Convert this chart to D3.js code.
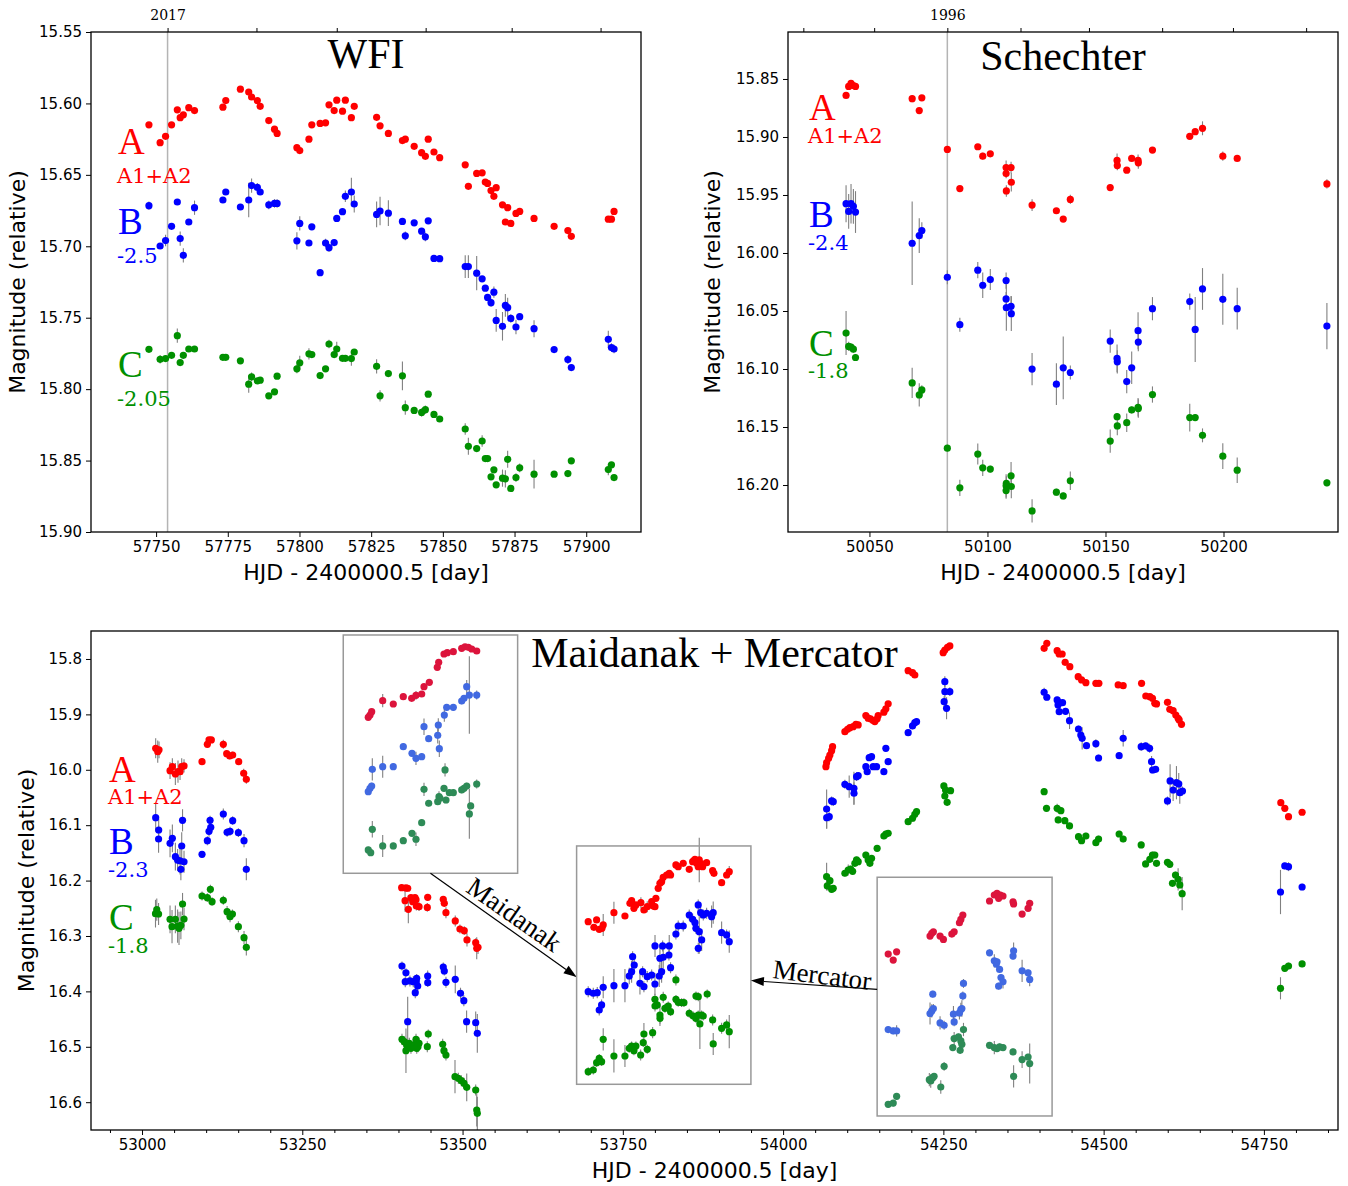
<!DOCTYPE html>
<html><head><meta charset="utf-8">
<script src="https://cdn.jsdelivr.net/npm/d3@7"></script>
<style>body{margin:0;background:#fff}svg{display:block}</style>
</head><body>
<script>
// ---------------- DATA ----------------
// WFI (top-left): shared epochs, magnitudes of A, B, C and their errors
const wfiT = [57747.5,57751.4,57753.3,57755.4,57757.4,57758.4,57759.5,57761.4,57763.4,57773.3,57774.3,57779.4,57782.3,57783.3,57785.3,57786.3,57789.3,57791.3,57792.2,57799.1,57800.1,57803.3,57804.3,57807.2,57809.1,57810.3,57812.1,57813.0,57815.0,57816.0,57818.1,57819.1,57826.9,57828.1,57831.0,57835.9,57836.9,57840.0,57842.6,57843.9,57844.9,57846.9,57848.9,57857.8,57858.9,57861.8,57863.7,57864.8,57865.6,57866.8,57867.8,57868.6,57870.8,57871.8,57872.6,57873.7,57875.5,57876.8,57881.8,57888.8,57893.6,57894.8,57907.7,57908.8,57909.7];
const wfiA = [15.615,15.6275,15.623,15.615,15.6045,15.610,15.608,15.603,15.605,15.6026,15.598,15.590,15.592,15.5955,15.598,15.602,15.612,15.618,15.621,15.631,15.633,15.625,15.615,15.614,15.6136,15.601,15.605,15.5977,15.6054,15.5977,15.610,15.602,15.6097,15.6157,15.621,15.626,15.625,15.630,15.6345,15.637,15.625,15.634,15.638,15.643,15.658,15.649,15.6486,15.655,15.656,15.661,15.665,15.659,15.671,15.683,15.673,15.684,15.677,15.6756,15.6805,15.686,15.689,15.693,15.681,15.681,15.6756];
const wfiB = [15.6716,15.6998,15.696,15.686,15.669,15.6946,15.7063,15.683,15.673,15.6676,15.662,15.6725,15.6676,15.6575,15.6587,15.662,15.671,15.670,15.670,15.6962,15.684,15.6977,15.6864,15.7185,15.6977,15.701,15.6974,15.6805,15.6758,15.665,15.662,15.6704,15.6777,15.6753,15.6768,15.6826,15.6927,15.6836,15.6894,15.6934,15.6822,15.7085,15.7087,15.7142,15.7142,15.7188,15.7228,15.7293,15.7358,15.7395,15.7321,15.7519,15.756,15.7414,15.743,15.7505,15.7565,15.7493,15.7577,15.7723,15.7793,15.7849,15.7651,15.7709,15.7719];
const wfiC = [15.7721,15.7791,15.7786,15.7763,15.7626,15.7814,15.7763,15.7719,15.7719,15.7777,15.7777,15.7802,15.7965,15.7914,15.7942,15.7937,15.8047,15.8019,15.7909,15.7858,15.7816,15.7753,15.7758,15.7905,15.7858,15.7684,15.7758,15.7719,15.7784,15.7784,15.7786,15.774,15.784,15.8047,15.7891,15.7907,15.813,15.8149,15.8163,15.8144,15.8035,15.8177,15.8209,15.8279,15.84,15.8416,15.8363,15.8486,15.8486,15.8614,15.8565,15.867,15.8623,15.8628,15.8491,15.8695,15.8619,15.8551,15.8595,15.8595,15.8591,15.8502,15.8563,15.853,15.8619];
const wfiEA = [0.0015,0.0015,0.0015,0.0015,0.0015,0.0015,0.0015,0.0015,0.0015,0.0015,0.0015,0.0015,0.0015,0.0015,0.0015,0.0015,0.0015,0.0015,0.0015,0.002,0.002,0.0015,0.0015,0.0015,0.0015,0.0015,0.0015,0.0015,0.0015,0.0015,0.0015,0.0015,0.002,0.0015,0.0015,0.0015,0.0015,0.0015,0.0015,0.0015,0.0015,0.0015,0.0015,0.0015,0.002,0.0015,0.0015,0.0015,0.0015,0.0015,0.0015,0.0015,0.0015,0.0015,0.0015,0.0015,0.0015,0.0015,0.0015,0.0015,0.0015,0.0015,0.0015,0.0015,0.0015];
const wfiEB = [0.003,0.002,0.004,0.002,0.002,0.005,0.005,0.002,0.005,0.002,0.002,0.002,0.012,0.005,0.003,0.002,0.003,0.003,0.003,0.006,0.005,0.002,0.002,0.002,0.003,0.003,0.002,0.002,0.002,0.004,0.010,0.006,0.009,0.010,0.009,0.002,0.003,0.002,0.002,0.003,0.002,0.002,0.002,0.008,0.008,0.012,0.002,0.002,0.002,0.003,0.004,0.008,0.010,0.008,0.007,0.003,0.005,0.002,0.006,0.002,0.003,0.002,0.006,0.003,0.003];
const wfiEC = [0.002,0.003,0.002,0.002,0.005,0.002,0.002,0.002,0.002,0.002,0.002,0.002,0.006,0.003,0.002,0.002,0.002,0.002,0.002,0.003,0.005,0.004,0.002,0.002,0.002,0.003,0.002,0.005,0.002,0.002,0.005,0.002,0.005,0.004,0.002,0.010,0.005,0.002,0.003,0.003,0.002,0.002,0.002,0.004,0.006,0.002,0.004,0.002,0.002,0.002,0.002,0.002,0.006,0.006,0.006,0.002,0.003,0.003,0.010,0.002,0.002,0.002,0.004,0.002,0.002];

// Schechter (top-right)
const schT = [50040.1,50041.2,50042.2,50043.2,50044.1,50068.1,50071.1,50072.2,50083.0,50088.3,50095.9,50098.0,50101.2,50107.9,50107.9,50108.0,50110.0,50110.1,50118.9,50129.2,50132.1,50135.1,50152.0,50154.9,50155.0,50159.0,50161.1,50163.8,50163.9,50169.9,50185.7,50188.0,50191.1,50199.7,50205.8,50243.8];
const schA = [15.8642,15.8564,15.8538,15.8556,15.8564,15.867,15.8772,15.8662,15.9107,15.9445,15.9084,15.9165,15.9145,15.9263,15.9315,15.9465,15.9263,15.939,15.9587,15.9636,15.9708,15.9538,15.9436,15.9202,15.9246,15.9286,15.9185,15.9202,15.9223,15.9113,15.8994,15.8954,15.8925,15.9165,15.9185,15.9405];
const schB = [15.9575,15.9642,15.9575,15.9598,15.9647,15.9916,15.985,15.9806,16.0209,16.0618,16.0148,16.0278,16.0229,16.0238,16.0396,16.0471,16.046,16.0523,16.1001,16.1131,16.099,16.103,16.0759,16.0909,16.0938,16.1108,16.099,16.067,16.0768,16.048,16.0419,16.0659,16.031,16.0399,16.048,16.063];
const schC = [16.069,16.0805,16.0811,16.0829,16.0901,16.112,16.1223,16.118,16.1682,16.2024,16.1733,16.1852,16.1863,16.2007,16.2048,16.1985,16.1921,16.2013,16.2223,16.2062,16.2094,16.1964,16.1621,16.1411,16.1491,16.1463,16.1353,16.133,16.1341,16.122,16.1419,16.1419,16.1572,16.1751,16.1872,16.1981];
const schEA = [0.002,0.002,0.002,0.002,0.002,0.003,0.002,0.002,0.002,0.002,0.002,0.003,0.002,0.006,0.004,0.005,0.005,0.008,0.005,0.002,0.002,0.004,0.003,0.006,0.004,0.002,0.002,0.005,0.005,0.002,0.002,0.002,0.006,0.004,0.002,0.004];
const schEB = [0.016,0.015,0.017,0.015,0.018,0.036,0.015,0.007,0.006,0.006,0.007,0.011,0.009,0.007,0.006,0.020,0.009,0.015,0.014,0.018,0.027,0.006,0.010,0.012,0.010,0.010,0.014,0.016,0.008,0.010,0.007,0.028,0.018,0.022,0.018,0.020];
const schEC = [0.019,0.004,0.003,0.003,0.003,0.013,0.010,0.004,0.003,0.007,0.009,0.007,0.003,0.010,0.007,0.006,0.012,0.010,0.010,0.003,0.003,0.008,0.010,0.003,0.008,0.008,0.003,0.008,0.008,0.007,0.012,0.003,0.006,0.011,0.011,0.003];

// Maidanak + Mercator (bottom): [HJD, mag, err]
const mmA = [
[53021.3,15.9612,0.018],[53024.5,15.9673,0.02],[53026.5,15.964,0.015],[53043.7,16.0016,0.015],[53047.3,15.9944,0.015],[53052.0,16.0076,0.02],[53056.1,16.0034,0.02],[53059.3,16.0034,0.015],[53061.9,15.9944,0.015],[53065.5,15.9931,0.012],
[53093.6,15.9853,0.006],[53101.9,15.954,0.004],[53104.5,15.9462,0.004],[53108.1,15.9462,0.004],[53126.8,15.954,0.008],[53132.1,15.9709,0.006],[53136.8,15.9751,0.006],[53141.4,15.9733,0.006],[53150.8,15.9853,0.005],[53158.6,16.0063,0.008],[53162.7,16.0172,0.008],
[53405.0,16.2128,0.006],[53410.3,16.2363,0.02],[53411.7,16.2133,0.005],[53414.4,16.2138,0.005],[53415.4,16.2518,0.025],[53419.5,16.2309,0.006],[53422.2,16.2381,0.006],[53425.8,16.2309,0.006],[53427.4,16.2345,0.006],[53427.9,16.2459,0.008],[53432.1,16.2471,0.008],
[53445.0,16.2484,0.008],[53445.6,16.2303,0.006],[53469.9,16.2338,0.006],[53471.5,16.241,0.006],[53474.1,16.258,0.01],[53488.6,16.2729,0.01],[53495.9,16.2874,0.008],[53502.6,16.2904,0.008],[53506.9,16.3072,0.012],[53520.5,16.312,0.008],[53522.1,16.3222,0.02],[53524.1,16.3204,0.012],
[53696.0,16.2742,0.004],[53704.9,16.2843,0.004],[53709.1,16.2711,0.004],[53713.2,16.2879,0.004],[53717.4,16.2861,0.004],[53719.4,16.2801,0.02],[53736.1,16.258,0.02],[53753.3,16.2639,0.004],[53761.1,16.241,0.004],[53763.7,16.2363,0.004],[53767.3,16.25,0.004],[53770.4,16.244,0.004],[53778.2,16.2399,0.01],[53782.9,16.2531,0.004],[53788.1,16.2471,0.01],[53795.0,16.2381,0.004],[53797.4,16.2459,0.004],[53800.1,16.2471,0.004],[53801.6,16.232,0.004],
[53805.2,16.2139,0.004],[53807.9,16.2049,0.004],[53810.5,16.202,0.004],[53813.0,16.1941,0.004],[53818.3,16.1899,0.004],[53822.4,16.1868,0.004],[53824.5,16.1899,0.004],[53832.8,16.1718,0.006],[53836.4,16.1749,0.004],[53844.2,16.1688,0.004],
[53853.6,16.1796,0.004],[53858.9,16.1658,0.004],[53860.9,16.164,0.004],[53862.5,16.1616,0.004],[53865.2,16.1688,0.004],[53867.6,16.1749,0.004],[53869.2,16.1628,0.04],[53873.0,16.17,0.004],[53874.5,16.1749,0.004],[53880.7,16.1676,0.004],[53890.1,16.1821,0.004],[53892.1,16.1869,0.004],[53904.1,16.2038,0.004],[53911.9,16.1899,0.004],[53916.0,16.1839,0.01],
[54066.8,15.9944,0.003],[54067.9,15.9872,0.003],[54071.0,15.9792,0.003],[54073.0,15.9733,0.003],[54075.7,15.9655,0.003],[54077.2,15.9583,0.003],[54096.4,15.9312,0.003],[54100.6,15.9269,0.003],[54104.2,15.924,0.003],[54109.3,15.9222,0.003],[54113.6,15.9179,0.003],[54117.1,15.9191,0.003],
[54129.1,15.9021,0.003],[54132.7,15.9069,0.003],[54136.4,15.908,0.003],[54140.5,15.9111,0.003],[54143.1,15.9129,0.003],[54146.7,15.908,0.003],[54148.3,15.9021,0.003],[54157.2,15.8961,0.003],[54160.3,15.8899,0.003],[54163.9,15.8809,0.003],
[54195.1,15.8211,0.003],[54201.9,15.8247,0.003],[54205.5,15.8289,0.003],[54249.7,15.7886,0.003],[54252.3,15.7838,0.003],[54256.5,15.7789,0.003],[54260.1,15.7765,0.003],
[54407.2,15.7807,0.003],[54411.4,15.7717,0.003],[54427.5,15.785,0.003],[54430.6,15.791,0.003],[54435.3,15.791,0.003],[54440.0,15.806,0.003],[54447.3,15.8139,0.003],[54460.3,15.8319,0.003],[54465.6,15.8379,0.003],[54472.3,15.8428,0.003],[54487.9,15.8439,0.003],[54492.6,15.8439,0.003],
[54522.7,15.8469,0.003],[54530.5,15.8482,0.003],[54559.2,15.8439,0.003],[54565.8,15.8668,0.003],[54572.1,15.868,0.003],[54576.2,15.8709,0.003],[54579.8,15.88,0.003],[54582.5,15.8812,0.003],[54599.6,15.8782,0.003],[54603.2,15.8908,0.003],[54608.4,15.8933,0.003],[54612.6,15.9011,0.003],[54616.2,15.907,0.003],[54617.8,15.9101,0.003],[54621.5,15.9179,0.003],
[54776.4,16.0594,0.003],[54782.6,16.0695,0.003],[54788.4,16.0847,0.003],[54809.6,16.0767,0.003]];
const mmB = [
[53021.3,16.0865,0.025],[53025.8,16.1249,0.025],[53026.0,16.1087,0.02],[53043.7,16.1327,0.025],[53047.3,16.1237,0.025],[53052.0,16.1569,0.025],[53055.5,16.1629,0.02],[53059.3,16.1642,0.025],[53060.6,16.1796,0.02],[53061.9,16.1376,0.025],[53063.2,16.0912,0.02],[53065.5,16.166,0.02],
[53093.6,16.1526,0.006],[53101.9,16.128,0.008],[53104.5,16.111,0.01],[53106.1,16.0912,0.008],[53107.2,16.1038,0.008],[53126.8,16.0798,0.01],[53132.7,16.1129,0.008],[53137.3,16.111,0.008],[53141.4,16.0918,0.008],[53150.3,16.1135,0.008],[53159.1,16.128,0.012],[53162.7,16.1796,0.02],
[53405.5,16.3542,0.008],[53410.6,16.3825,0.01],[53411.7,16.3664,0.008],[53414.4,16.4547,0.045],[53417.9,16.3812,0.01],[53423.1,16.3825,0.01],[53426.2,16.4023,0.01],[53427.8,16.3825,0.01],[53428.4,16.3764,0.008],[53430.0,16.3903,0.01],[53445.6,16.3722,0.01],[53445.7,16.3843,0.008],
[53469.9,16.356,0.008],[53471.5,16.3632,0.008],[53474.1,16.3836,0.01],[53488.6,16.3782,0.025],[53496.8,16.4034,0.01],[53502.0,16.4168,0.01],[53506.3,16.4547,0.02],[53520.5,16.4565,0.02],[53523.0,16.4757,0.035],
[53696.0,16.4006,0.01],[53703.9,16.4034,0.01],[53710.1,16.4023,0.01],[53713.2,16.4336,0.01],[53716.9,16.4245,0.01],[53719.4,16.3926,0.02],[53736.1,16.3897,0.03],[53753.3,16.3897,0.03],[53760.0,16.3722,0.015],[53763.7,16.3645,0.02],[53765.3,16.3374,0.01],[53767.8,16.3524,0.01],[53776.7,16.3854,0.02],[53780.9,16.3645,0.01],[53782.9,16.3915,0.01],[53788.1,16.3734,0.01],[53795.0,16.3704,0.01],[53800.1,16.3867,0.02],[53800.2,16.318,0.02],[53806.8,16.3722,0.02],[53807.9,16.3402,0.02],[53810.5,16.3645,0.02],[53812.1,16.318,0.01],[53813.0,16.3384,0.02],[53821.9,16.3343,0.01],[53822.4,16.318,0.02],[53824.5,16.3572,0.01],
[53832.8,16.2964,0.01],[53836.4,16.282,0.01],[53844.2,16.282,0.01],[53853.6,16.2621,0.01],[53858.9,16.2699,0.01],[53862.5,16.276,0.01],[53864.0,16.2861,0.01],[53867.6,16.244,0.01],[53867.7,16.3222,0.01],[53869.2,16.2922,0.04],[53871.4,16.2579,0.01],[53873.0,16.3072,0.02],[53875.5,16.2621,0.01],[53880.7,16.259,0.01],[53888.5,16.2652,0.02],[53891.0,16.2579,0.02],[53904.1,16.294,0.02],[53911.9,16.2981,0.01],[53916.0,16.3102,0.02],
[54067.9,16.0708,0.035],[54068.0,16.0865,0.02],[54072.0,16.0847,0.008],[54075.7,16.0563,0.008],[54078.2,16.0576,0.008],[54096.4,16.0262,0.008],[54103.1,16.0305,0.02],[54110.5,16.0334,0.03],[54110.6,16.0424,0.02],[54114.6,16.0124,0.008],[54117.1,16.0106,0.006],
[54129.1,15.9944,0.006],[54131.2,16.0034,0.006],[54134.3,15.9781,0.006],[54138.0,15.9763,0.006],[54140.5,15.9944,0.006],[54145.8,15.9944,0.006],[54157.2,16.0034,0.006],[54160.3,15.9612,0.006],[54163.9,15.9853,0.006],
[54195.1,15.933,0.006],[54201.9,15.9209,0.006],[54205.5,15.915,0.006],[54208.2,15.9132,0.006],[54251.2,15.8771,0.01],[54252.3,15.841,0.01],[54252.4,15.859,0.025],[54255.0,15.889,0.02],[54260.1,15.859,0.008],
[54407.2,15.8601,0.008],[54411.4,15.8691,0.006],[54427.5,15.874,0.006],[54428.9,15.883,0.006],[54430.6,15.8788,0.006],[54430.7,15.8951,0.006],[54435.9,15.8788,0.006],[54440.6,15.8944,0.006],[54446.8,15.9114,0.015],[54460.8,15.9264,0.006],[54464.4,15.9372,0.006],[54466.5,15.9432,0.02],
[54473.3,15.9565,0.006],[54487.9,15.9529,0.008],[54492.1,15.9787,0.006],[54524.2,15.9745,0.006],[54530.5,15.9432,0.015],[54558.6,15.9583,0.008],[54565.5,15.957,0.006],[54571.7,15.9612,0.008],[54574.8,15.9853,0.01],[54576.4,16.0004,0.006],[54581.1,15.9991,0.006],
[54599.6,16.0563,0.008],[54603.7,16.0202,0.03],[54608.4,16.0365,0.02],[54613.6,16.0233,0.03],[54617.2,16.0256,0.02],[54618.8,16.0413,0.02],[54623.0,16.0383,0.008],
[54775.9,16.2206,0.04],[54782.6,16.1736,0.006],[54788.4,16.1749,0.008],[54809.6,16.2116,0.006]];
const mmC = [
[53021.0,16.2597,0.025],[53023.0,16.2525,0.02],[53025.8,16.2603,0.02],[53043.7,16.2699,0.025],[53046.8,16.2832,0.03],[53052.0,16.2699,0.025],[53055.5,16.282,0.03],[53057.7,16.2862,0.03],[53060.6,16.2807,0.025],[53063.2,16.2423,0.02],[53065.5,16.2695,0.02],
[53093.6,16.2278,0.008],[53101.9,16.2308,0.008],[53106.6,16.2157,0.008],[53109.2,16.2381,0.008],[53126.8,16.2356,0.008],[53132.7,16.2561,0.01],[53137.3,16.2651,0.01],[53141.0,16.2603,0.008],[53150.3,16.2832,0.01],[53159.1,16.3031,0.012],[53162.7,16.3204,0.015],
[53405.5,16.4865,0.01],[53409.1,16.4908,0.01],[53411.7,16.5071,0.04],[53412.8,16.4968,0.01],[53416.9,16.4937,0.01],[53419.5,16.5027,0.01],[53423.1,16.4968,0.01],[53427.4,16.4865,0.01],[53428.5,16.5027,0.01],[53430.5,16.4998,0.01],[53432.1,16.4937,0.01],[53445.0,16.4998,0.01],[53446.5,16.4769,0.008],
[53469.0,16.4955,0.01],[53471.0,16.5071,0.01],[53474.1,16.5148,0.01],[53488.2,16.554,0.03],[53493.4,16.5569,0.01],[53498.1,16.5612,0.01],[53502.3,16.5659,0.01],[53506.5,16.5731,0.025],[53520.5,16.5781,0.01],[53522.1,16.6141,0.03],[53523.0,16.6201,0.03],
[53696.0,16.5449,0.008],[53703.9,16.5419,0.008],[53709.1,16.5287,0.008],[53713.2,16.5208,0.008],[53716.9,16.5269,0.008],[53719.4,16.4865,0.02],[53736.1,16.5166,0.03],[53753.3,16.5166,0.02],[53760.0,16.5027,0.008],[53763.7,16.4986,0.008],[53767.3,16.5071,0.008],[53770.4,16.4986,0.008],[53777.8,16.5148,0.01],[53781.9,16.4926,0.008],[53782.9,16.4769,0.02],[53788.1,16.5045,0.008],[53796.5,16.4745,0.01],
[53800.1,16.4143,0.01],[53800.2,16.4264,0.01],[53803.6,16.4245,0.008],[53807.9,16.4426,0.02],[53813.0,16.4107,0.01],[53808.0,16.4486,0.01],[53815.7,16.4305,0.008],[53820.8,16.4264,0.008],[53824.5,16.4366,0.008],[53832.8,16.3794,0.01],[53832.9,16.4143,0.008],[53836.4,16.4197,0.008],[53841.7,16.4204,0.008],[53845.3,16.4204,0.008],
[53853.6,16.4395,0.008],[53859.8,16.4444,0.008],[53864.0,16.4486,0.008],[53867.6,16.4426,0.008],[53872.9,16.4426,0.008],[53875.4,16.4444,0.008],[53864.1,16.4083,0.008],[53867.7,16.4096,0.008],[53881.6,16.4047,0.008],[53890.1,16.4516,0.01],[53870.2,16.4588,0.045],[53891.0,16.4949,0.02],[53904.1,16.4666,0.01],[53911.9,16.4606,0.01],[53916.0,16.4727,0.03],
[54067.9,16.1929,0.025],[54068.9,16.2097,0.008],[54073.1,16.2002,0.006],[54075.7,16.2157,0.006],[54078.2,16.2139,0.006],[54096.4,16.1868,0.006],[54101.6,16.1809,0.01],[54105.3,16.1791,0.006],[54108.5,16.1832,0.006],[54112.0,16.1688,0.006],[54114.6,16.1628,0.006],[54117.1,16.1658,0.006],
[54129.1,16.1538,0.006],[54132.7,16.1628,0.006],[54135.4,16.1688,0.006],[54138.0,16.1598,0.006],[54146.7,16.1417,0.006],[54157.2,16.1195,0.006],[54160.3,16.1159,0.006],[54163.9,16.1146,0.006],
[54195.1,16.0937,0.006],[54201.9,16.0875,0.006],[54205.5,16.0803,0.006],[54208.2,16.0757,0.006],[54250.8,16.0292,0.006],[54252.3,16.0473,0.006],[54253.4,16.0365,0.006],[54255.9,16.0587,0.006],[54261.2,16.0377,0.006],
[54407.2,16.0395,0.006],[54410.9,16.0695,0.006],[54427.5,16.0695,0.008],[54429.1,16.0906,0.006],[54433.3,16.0738,0.006],[54439.5,16.0919,0.006],[54446.8,16.1014,0.006],[54460.8,16.1208,0.006],[54465.6,16.128,0.006],[54472.3,16.1195,0.006],[54487.9,16.1316,0.006],[54492.1,16.1249,0.006],
[54524.2,16.1159,0.006],[54530.5,16.1249,0.006],[54558.6,16.1357,0.006],[54565.5,16.17,0.006],[54572.1,16.1616,0.006],[54576.2,16.1538,0.006],[54579.8,16.1538,0.006],[54582.5,16.1688,0.006],[54599.6,16.167,0.006],[54603.2,16.1706,0.006],[54607.4,16.2049,0.006],[54612.1,16.1899,0.006],[54616.2,16.1977,0.02],[54618.8,16.2079,0.006],[54622.5,16.2236,0.03],
[54775.9,16.3944,0.02],[54782.6,16.3583,0.006],[54788.4,16.3542,0.006],[54809.6,16.3505,0.006]];

// Inset "Maidanak" (same HJD / mag frame as the boxed season)
const maiA = [[53716.9,16.2861,0.004],[53719.6,16.282,0.004],[53722.2,16.276,0.004],[53739.4,16.2561,0.012],[53755.9,16.2621,0.004],[53771.5,16.2489,0.004],[53784.6,16.2518,0.004],[53791.3,16.2464,0.008],[53800.2,16.244,0.004],[53803.8,16.2309,0.004],[53812.1,16.2229,0.004],[53824.5,16.1958,0.004],[53826.7,16.1868,0.004],[53835.0,16.1718,0.004],[53840.1,16.1695,0.004],[53849.5,16.1677,0.004],[53862.6,16.1616,0.004],[53867.8,16.1587,0.004],[53872.9,16.1598,0.004],[53878.2,16.1628,0.004],[53886.0,16.1664,0.004]];
const maiB = [[53716.9,16.4204,0.006],[53719.6,16.4143,0.006],[53722.2,16.4101,0.006],[53723.2,16.38,0.02],[53739.4,16.3753,0.02],[53755.9,16.3753,0.006],[53771.5,16.3392,0.006],[53785.1,16.3511,0.006],[53791.3,16.3601,0.012],[53800.2,16.3572,0.006],[53803.8,16.3031,0.015],[53811.1,16.3247,0.006],[53825.2,16.3186,0.015],[53826.1,16.3,0.012],[53827.7,16.3428,0.015],[53835.5,16.282,0.012],[53839.2,16.2681,0.006],[53849.5,16.2681,0.006],[53862.6,16.2567,0.006],[53866.2,16.2518,0.006],[53870.4,16.2309,0.012],[53874.5,16.2459,0.07],[53886.0,16.2459,0.008]];
const maiC = [[53716.9,16.5256,0.006],[53720.7,16.5305,0.006],[53723.2,16.4883,0.015],[53739.4,16.5184,0.02],[53755.9,16.5184,0.006],[53771.5,16.5088,0.006],[53785.1,16.4955,0.006],[53791.3,16.5063,0.012],[53800.2,16.4764,0.006],[53803.8,16.4161,0.012],[53811.1,16.4413,0.006],[53825.2,16.4384,0.006],[53827.2,16.4294,0.01],[53828.8,16.4323,0.006],[53836.6,16.3812,0.012],[53835.0,16.4143,0.006],[53838.1,16.4354,0.006],[53843.3,16.4222,0.006],[53849.5,16.4222,0.006],[53862.6,16.4173,0.006],[53866.2,16.4143,0.006],[53870.4,16.4101,0.006],[53874.5,16.4606,0.045],[53876.6,16.4462,0.006],[53886.0,16.4065,0.008]];

// Inset "Mercator"
const merA = [[53695.1,16.276,0.004],[53702.9,16.2868,0.004],[53708.2,16.2718,0.004],[53760.1,16.2435,0.004],[53762.8,16.2386,0.004],[53765.3,16.2357,0.004],[53775.7,16.2435,0.004],[53780.9,16.2495,0.004],[53794.0,16.2399,0.004],[53797.6,16.2357,0.004],[53805.8,16.2195,0.004],[53808.0,16.2134,0.004],[53811.1,16.2056,0.004],[53852.6,16.1803,0.004],[53860.0,16.1695,0.004],[53864.2,16.1664,0.004],[53869.3,16.1695,0.004],[53873.5,16.1713,0.004],[53866.7,16.1755,0.004],[53889.1,16.1816,0.004],[53890.0,16.1857,0.004],[53903.2,16.2038,0.004],[53912.5,16.1935,0.004],[53915.0,16.1845,0.004]];
const merB = [[53695.1,16.4119,0.006],[53702.9,16.4144,0.006],[53708.2,16.4144,0.01],[53760.1,16.383,0.02],[53762.8,16.3783,0.012],[53765.3,16.374,0.008],[53764.4,16.3482,0.006],[53775.7,16.4,0.012],[53782.0,16.4042,0.008],[53796.5,16.3843,0.015],[53797.6,16.3982,0.008],[53805.8,16.382,0.012],[53808.0,16.3758,0.012],[53809.6,16.374,0.015],[53811.1,16.3513,0.008],[53812.1,16.3289,0.008],
[53852.6,16.2736,0.006],[53860.0,16.2881,0.012],[53863.1,16.294,0.006],[53864.2,16.2899,0.006],[53868.2,16.3036,0.006],[53870.4,16.3181,0.006],[53873.5,16.326,0.012],[53866.7,16.3338,0.006],[53889.1,16.2796,0.006],[53890.0,16.27,0.015],[53903.2,16.3061,0.02],[53912.5,16.3097,0.006],[53915.0,16.3217,0.012]];
const merC = [[53695.1,16.5467,0.006],[53702.9,16.5444,0.006],[53708.2,16.5323,0.006],[53759.0,16.5022,0.012],[53761.2,16.5047,0.012],[53764.3,16.4986,0.006],[53766.4,16.4962,0.006],[53776.8,16.5155,0.012],[53782.0,16.4782,0.008],[53795.5,16.4444,0.006],[53797.6,16.4282,0.012],[53804.3,16.4253,0.006],[53808.0,16.4325,0.006],[53806.9,16.4493,0.006],[53809.6,16.4385,0.006],[53812.1,16.4119,0.012],
[53852.6,16.4403,0.006],[53860.0,16.4444,0.012],[53864.2,16.4462,0.006],[53868.2,16.4433,0.006],[53873.5,16.4444,0.006],[53889.1,16.4523,0.006],[53890.0,16.4962,0.02],[53903.2,16.4661,0.015],[53912.5,16.4614,0.006],[53915.0,16.4733,0.036]];

// Tick values / labels
const wfiXTicks = [57750,57775,57800,57825,57850,57875,57900];
const wfiYTicks = [15.55,15.60,15.65,15.70,15.75,15.80,15.85,15.90];
const wfiMonths = [57754,57785,57813,57844,57874,57905];
const wfiYearTick = {57754:"2017"};
const schXTicks = [50050,50100,50150,50200];
const schYTicks = [15.85,15.90,15.95,16.00,16.05,16.10,16.15,16.20];
const schMonths = [50022,50052,50083,50114,50143,50174,50204,50235];
const schYearTick = {50083:"1996"};
const mmXTicks = [53000,53250,53500,53750,54000,54250,54500,54750];
const mmXMinor = [52950,53050,53100,53150,53200,53300,53350,53400,53450,53550,53600,53650,53700,53800,53850,53900,53950,54050,54100,54150,54200,54300,54350,54400,54450,54550,54600,54650,54700,54800,54850];
const mmYTicks = [15.8,15.9,16.0,16.1,16.2,16.3,16.4,16.5,16.6];
const labelsWFI = ["A","A1+A2","B","-2.5","C","-2.05"];
const labelsSch = ["A","A1+A2","B","-2.4","C","-1.8"];
const labelsMM  = ["A","A1+A2","B","-2.3","C","-1.8"];

// ---------------- RENDER ----------------
const W=1348,H=1186;
const SANS="'DejaVu Sans', sans-serif", SERIF="'Liberation Serif','Times New Roman',serif", DSERIF="'DejaVu Serif',serif";
const COL={A:"#ff0000",B:"#0000ff",C:"#009000",A2:"#dc143c",B2:"#4169e1",C2:"#2e8b57",err:"#808080"};
const svg=d3.select("body").append("svg").attr("width",W).attr("height",H);
svg.append("rect").attr("width",W).attr("height",H).attr("fill","#fff");
const defs=svg.append("defs");

function panel(p){
  const x=d3.scaleLinear().domain(p.xd).range([p.x0,p.x1]);
  const y=d3.scaleLinear().domain(p.yd).range([p.y0,p.y1]);
  defs.append("clipPath").attr("id","clip-"+p.name).append("rect")
    .attr("x",p.x0).attr("y",p.y0).attr("width",p.x1-p.x0).attr("height",p.y1-p.y0);
  const g=svg.append("g");
  const styleAxis=s=>{s.select(".domain").remove();s.attr("font-family",SANS).attr("font-size",15);s.selectAll("text").attr("fill","#000");};
  g.append("g").attr("transform",`translate(0,${p.y1})`)
    .call(d3.axisBottom(x).tickValues(p.xTicks).tickFormat(d3.format("d")).tickSize(5).tickPadding(4)).call(styleAxis);
  if(p.xMinor) g.append("g").attr("transform",`translate(0,${p.y1})`)
    .call(d3.axisBottom(x).tickValues(p.xMinor).tickFormat("").tickSize(3)).call(styleAxis);
  g.append("g").attr("transform",`translate(${p.x0},0)`)
    .call(d3.axisLeft(y).tickValues(p.yTicks).tickFormat(d3.format(p.yFmt)).tickSize(5).tickPadding(4)).call(styleAxis);
  if(p.months){
    const ax=g.append("g").attr("transform",`translate(0,${p.y0})`)
      .call(d3.axisTop(x).tickValues(p.months).tickFormat(d=>p.yearTick[d]||"").tickSize(4).tickPadding(8)).call(styleAxis);
    ax.attr("font-family",DSERIF).attr("font-size",14);
  }
  const data=g.append("g").attr("clip-path",`url(#clip-${p.name})`);
  if(p.vline!==undefined) data.append("line").attr("x1",x(p.vline)).attr("x2",x(p.vline))
      .attr("y1",p.y0).attr("y2",p.y1).attr("stroke","#b4b4b4").attr("stroke-width",1.5);
  // axis labels
  svg.append("text").attr("x",(p.x0+p.x1)/2).attr("y",p.xlabY).attr("text-anchor","middle")
    .attr("font-family",SANS).attr("font-size",22).text("HJD - 2400000.5 [day]");
  svg.append("text").attr("transform",`translate(${p.ylabX},${(p.y0+p.y1)/2}) rotate(-90)`).attr("text-anchor","middle")
    .attr("font-family",SANS).attr("font-size",22).text("Magnitude (relative)");
  // title
  svg.append("text").attr("x",(p.x0+p.x1)/2).attr("y",p.y0+p.titleDy).attr("text-anchor","middle")
    .attr("font-family",SERIF).attr("font-size",42).text(p.title);
  // series labels
  const L=p.labels, lx=p.x0+p.labDx, cols=[COL.A,COL.A,COL.B,COL.B,COL.C,COL.C];
  L.forEach((t,i)=>{
    const big=(i%2===0);
    svg.append("text").attr("x",lx+(big?1:0)).attr("y",p.y0+p.labDy[i])
      .attr("font-family",big?SERIF:DSERIF).attr("font-size",big?37:21).attr("fill",cols[i]).text(t);
  });
  return {x,y,data,g,p};
}

function drawSeries(g,x,y,pts,color,r){
  g.append("g").selectAll("line").data(pts).join("line")
    .attr("x1",d=>x(d[0])).attr("x2",d=>x(d[0])).attr("y1",d=>y(d[1]-d[2])).attr("y2",d=>y(d[1]+d[2]))
    .attr("stroke",COL.err).attr("stroke-width",1.1);
  g.append("g").selectAll("circle").data(pts).join("circle")
    .attr("cx",d=>x(d[0])).attr("cy",d=>y(d[1])).attr("r",r||3.6).attr("fill",color);
}
const zip=(t,m,e)=>t.map((v,i)=>[v,m[i],e[i]]);
function frame(p){svg.append("rect").attr("x",p.x0).attr("y",p.y0).attr("width",p.x1-p.x0).attr("height",p.y1-p.y0)
  .attr("fill","none").attr("stroke","#000").attr("stroke-width",1.3);}

// Top-left: WFI
const P1=panel({name:"wfi",x0:91,x1:641,y0:32,y1:532,xd:[57727.3,57919.1],yd:[15.55,15.90],
  xTicks:wfiXTicks,yTicks:wfiYTicks,yFmt:".2f",months:wfiMonths,yearTick:wfiYearTick,vline:57754,
  xlabY:580,ylabX:25,title:"WFI",titleDy:36,labels:labelsWFI,labDx:26,labDy:[122,151,202,231,345,374]});
drawSeries(P1.data,P1.x,P1.y,zip(wfiT,wfiA,wfiEA),COL.A);
drawSeries(P1.data,P1.x,P1.y,zip(wfiT,wfiB,wfiEB),COL.B);
drawSeries(P1.data,P1.x,P1.y,zip(wfiT,wfiC,wfiEC),COL.C);
frame(P1.p);

// Top-right: Schechter
const P2=panel({name:"sch",x0:788,x1:1338,y0:32,y1:532,xd:[50015.5,50248.5],yd:[15.8095,16.2405],
  xTicks:schXTicks,yTicks:schYTicks,yFmt:".2f",months:schMonths,yearTick:schYearTick,vline:50083,
  xlabY:580,ylabX:720,title:"Schechter",titleDy:38,labels:labelsSch,labDx:20,labDy:[88,111,195,218,324,346]});
drawSeries(P2.data,P2.x,P2.y,zip(schT,schA,schEA),COL.A);
drawSeries(P2.data,P2.x,P2.y,zip(schT,schB,schEB),COL.B);
drawSeries(P2.data,P2.x,P2.y,zip(schT,schC,schEC),COL.C);
frame(P2.p);

// Bottom: Maidanak + Mercator
const P3=panel({name:"mm",x0:91,x1:1338,y0:631,y1:1130,xd:[52920.4,54865.6],yd:[15.7495,16.6502],
  xTicks:mmXTicks,xMinor:mmXMinor,yTicks:mmYTicks,yFmt:".1f",
  xlabY:1178,ylabX:34,title:"Maidanak + Mercator",titleDy:36,labels:labelsMM,labDx:17,labDy:[151,173,223,246,299,322]});
drawSeries(P3.data,P3.x,P3.y,mmA,COL.A);
drawSeries(P3.data,P3.x,P3.y,mmB,COL.B);
drawSeries(P3.data,P3.x,P3.y,mmC,COL.C);

// boxed season in data coordinates, and the two insets placed in main data coordinates
const boxDom={t0:53677.9,t1:53949.8,m0:16.1375,m1:16.5677};
const maiPlace={t0:53313.9,t1:53585.9,m0:15.7567,m1:16.1868};
const merPlace={t0:54146.7,t1:54419.6,m0:16.194,m1:16.6249};
const X=P3.x,Y=P3.y;
const rectOf=b=>({x0:X(b.t0),x1:X(b.t1),y0:Y(b.m0),y1:Y(b.m1)});
const mid=rectOf(boxDom);
svg.append("rect").attr("x",mid.x0).attr("y",mid.y0).attr("width",mid.x1-mid.x0).attr("height",mid.y1-mid.y0)
  .attr("fill","none").attr("stroke","#999").attr("stroke-width",1.5);
function inset(place,sA,sB,sC){
  const r=rectOf(place);
  svg.append("rect").attr("x",r.x0).attr("y",r.y0).attr("width",r.x1-r.x0).attr("height",r.y1-r.y0)
    .attr("fill","#fff").attr("stroke","#999").attr("stroke-width",1.5);
  const ix=d3.scaleLinear().domain([boxDom.t0,boxDom.t1]).range([r.x0,r.x1]);
  const iy=d3.scaleLinear().domain([boxDom.m0,boxDom.m1]).range([r.y0,r.y1]);
  const g=svg.append("g").attr("clip-path","url(#clip-mm)");
  drawSeries(g,ix,iy,sA,COL.A2);drawSeries(g,ix,iy,sB,COL.B2);drawSeries(g,ix,iy,sC,COL.C2);
  return r;
}
const rMai=inset(maiPlace,maiA,maiB,maiC);
const rMer=inset(merPlace,merA,merB,merC);

function arrow(x1,y1,x2,y2){
  const a=Math.atan2(y2-y1,x2-x1),L=13,w=4.5;
  const bx=x2-L*Math.cos(a),by=y2-L*Math.sin(a),px=-Math.sin(a)*w,py=Math.cos(a)*w;
  svg.append("line").attr("x1",x1).attr("y1",y1).attr("x2",bx).attr("y2",by).attr("stroke","#000").attr("stroke-width",1.2);
  svg.append("path").attr("d",`M${x2},${y2}L${bx+px},${by+py}L${bx-px},${by-py}Z`).attr("fill","#000");
}
arrow(rMai.x0+0.5*(rMai.x1-rMai.x0),rMai.y1, mid.x0, mid.y0+0.55*(mid.y1-mid.y0));
arrow(rMer.x0, rMer.y0+0.47*(rMer.y1-rMer.y0), mid.x1, mid.y0+0.565*(mid.y1-mid.y0));
svg.append("text").attr("transform","translate(509,922) rotate(35)").attr("text-anchor","middle")
  .attr("font-family",SERIF).attr("font-size",27).text("Maidanak");
svg.append("text").attr("transform","translate(821,984) rotate(7)").attr("text-anchor","middle")
  .attr("font-family",SERIF).attr("font-size",27).text("Mercator");
frame(P3.p);
</script>
</body></html>
